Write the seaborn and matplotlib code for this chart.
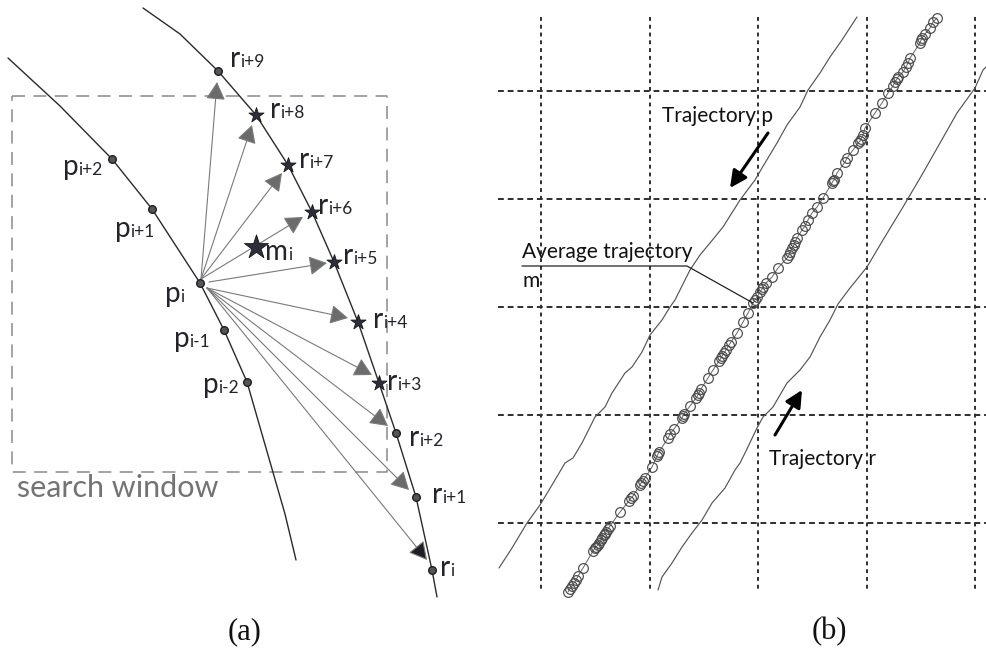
import matplotlib
matplotlib.use("Agg")
import matplotlib.pyplot as plt
import numpy as np
import pandas as pd
import seaborn as sns

# ---------------- panel (a): p_i and its search window on trajectory r ----------------
p_curve_x = [8, 60, 112, 152, 200, 224, 247, 268, 285, 296]
p_curve_y = [58, 106, 159, 209, 283, 330, 382, 455, 514, 560]
r_curve_x = [143, 180, 218, 256, 288, 312, 334, 358, 379, 396, 416, 432, 437]
r_curve_y = [8, 34, 71, 115, 165, 212, 262, 322, 383, 433, 497, 570, 597]

p_subs = ["i+2", "i+1", "i", "i-1", "i-2"]
p_x = [112, 152, 200, 224, 247]
p_y = [159, 209, 283, 330, 382]
p_label_x = [63, 115, 165, 174, 203]
p_label_y = [175, 237, 302, 347, 393]

r_subs = ["i", "i+1", "i+2", "i+3", "i+4", "i+5", "i+6", "i+7", "i+8", "i+9"]
r_x = [432, 416, 396, 379, 358, 334, 312, 288, 256, 218]
r_y = [570, 497, 433, 383, 322, 262, 212, 165, 115, 71]
r_kind = ["dot", "dot", "dot", "star", "star", "star", "star", "star", "star", "dot"]
r_label_x = [440, 432, 409, 387, 373, 343, 318, 299, 270, 230]
r_label_y = [576, 503, 446, 390, 328, 264, 214, 168, 118, 67]

# vectors from p_i towards each r point
tail_x = [207, 207, 207, 207, 207, 209, 201, 201, 201, 201]
tail_y = [288, 288, 288, 288, 288, 282, 279, 279, 279, 279]
tip_x = [427, 409, 388, 372, 348, 327, 303, 282, 252, 217]
tip_y = [560, 490, 426, 375, 318, 263, 217, 173, 125, 82]

m_x, m_y = 256, 247
m_label = (265, 260)
window_x = [12, 387]
window_y = [96, 472]

# ---------------- panel (b): trajectories p, r and their average m ----------------
grid_x = [541, 649.5, 758, 866.5, 975]
grid_y = [91, 199, 307, 415, 523]

traj_p_x = [499, 512, 527, 540, 555, 565, 573, 582, 595, 605, 612, 625, 632, 642, 650, 662, 670,
            675, 690, 700, 710, 723, 740, 755, 762, 777, 787, 800, 808, 820, 830, 842, 855, 857]
traj_p_y = [568, 548, 523, 505, 480, 463, 458, 443, 417, 407, 393, 373, 367, 352, 335, 320, 307,
            300, 270, 255, 243, 227, 200, 180, 168, 143, 125, 107, 90, 73, 57, 40, 20, 17]

traj_r_x = [658, 662, 672, 682, 692, 702, 712, 725, 735, 740, 745, 757, 763, 773, 787, 800, 810,
            820, 830, 838, 850, 867, 883, 903, 923, 940, 957, 975, 983, 986]
traj_r_y = [590, 577, 563, 547, 533, 520, 503, 488, 470, 463, 453, 428, 417, 407, 383, 370, 357,
            337, 320, 304, 288, 267, 240, 207, 173, 143, 113, 88, 70, 67]

traj_m_x = [568, 570, 572, 574, 576, 578, 583, 593, 595, 596, 598, 599, 601, 602, 604, 605, 606,
            608, 610, 620, 629, 631, 633, 640, 641, 643, 645, 652, 657, 658, 659, 668, 670, 674,
            682, 683, 684, 690, 696, 698, 699, 701, 708, 713, 719, 721, 722, 724, 726, 729, 731,
            737, 743, 748, 753, 755, 757, 760, 762, 763, 766, 772, 778, 787, 789, 790, 792, 794,
            795, 797, 802, 805, 808, 812, 817, 823, 832, 833, 834, 837, 845, 847, 853, 858, 860,
            861, 863, 865, 875, 882, 888, 893, 895, 897, 898, 903, 906, 908, 910, 920, 921, 922,
            925, 930, 933, 937]
traj_m_y = [592, 589, 586, 583, 580, 576, 568, 551, 548, 547, 545, 543, 540, 538, 535, 534, 532,
            529, 526, 512, 501, 498, 496, 485, 483, 481, 478, 467, 456, 454, 452, 438, 434, 429,
            418, 416, 414, 406, 398, 395, 393, 389, 378, 370, 361, 358, 356, 353, 350, 345, 342,
            333, 322, 313, 303, 300, 297, 292, 289, 287, 283, 277, 268, 258, 255, 252, 248, 245,
            242, 238, 230, 226, 220, 213, 207, 198, 183, 181, 180, 173, 162, 158, 150, 143, 141,
            139, 135, 128, 113, 103, 93, 86, 82, 79, 77, 72, 67, 63, 58, 43, 40, 38, 34, 28, 22, 18]

arrow_p = [(768, 133), (730, 188)]
arrow_r = [(775, 435), (802, 390)]
avg_leader_x = [522, 687, 753]
avg_leader_y = [266, 266, 303]

captions = ["(a)", "(b)"]
caption_x = [245, 829]
caption_y = 639

# ---------------- drawing ----------------
sns.set_theme(style="white")
plt.rcParams["font.family"] = ["Lato", "DejaVu Sans"]

fig = plt.figure(figsize=(9.86, 6.5), dpi=100)
ax = fig.add_axes([0, 0, 1, 1])
ax.set_xlim(0, 986)
ax.set_ylim(650, 0)
ax.axis("off")
renderer = fig.canvas.get_renderer()

DARK = "#23232b"


def sub_label(base, sub, x, y, color=DARK, size=20, sub_size=12.5):
    t = ax.text(x, y, base, fontsize=size, color=color, va="baseline", ha="left")
    w = t.get_window_extent(renderer).width
    ax.text(x + w, y, sub, fontsize=sub_size, color=color, va="baseline", ha="left")


# search window
wx0, wx1 = window_x
wy0, wy1 = window_y
ax.plot([wx0, wx1, wx1, wx0, wx0], [wy0, wy0, wy1, wy1, wy0],
        color="#8a8a8a", lw=1.1, ls=(0, (8.5, 5.5)))
ax.text(17, 497, "search window", fontsize=22, color="#737373", va="baseline", ha="left")

# trajectories in panel (a)
sns.lineplot(x=p_curve_x, y=p_curve_y, sort=False, estimator=None, ax=ax, color="#2a2a2a", lw=1.0)
sns.lineplot(x=r_curve_x, y=r_curve_y, sort=False, estimator=None, ax=ax, color="#2a2a2a", lw=1.0)

# vectors
for i in range(len(tip_x)):
    head_fc = "#1e1e24" if i == 0 else "#6b6b6b"
    ax.annotate("", xy=(tip_x[i], tip_y[i]), xytext=(tail_x[i], tail_y[i]),
                arrowprops=dict(arrowstyle="-|>,head_length=1.1,head_width=0.6",
                                mutation_scale=10, shrinkA=0, shrinkB=0, lw=0.8,
                                ec="#7a7a7a", fc=head_fc))

# points on p and r
pts = pd.DataFrame({"x": p_x + r_x, "y": p_y + r_y,
                    "kind": ["dot"] * len(p_x) + r_kind})
dots = pts[pts.kind == "dot"]
stars = pts[pts.kind == "star"]
sns.scatterplot(data=dots, x="x", y="y", ax=ax, s=30, color="#555555",
                edgecolor="#1e1e24", linewidth=1.0, zorder=5)
sns.scatterplot(data=stars, x="x", y="y", ax=ax, marker="*", s=130, color="#2c2f3a",
                edgecolor="#15151a", linewidth=0.6, zorder=5)
sns.scatterplot(x=[m_x], y=[m_y], ax=ax, marker="*", s=330, color="#2c2f3a",
                edgecolor="#15151a", linewidth=0.6, zorder=5)

for s, lx, ly in zip(p_subs, p_label_x, p_label_y):
    sub_label("p", s, lx, ly)
for s, lx, ly in zip(r_subs, r_label_x, r_label_y):
    sub_label("r", s, lx, ly)
sub_label("m", "i", *m_label)

# ---------------- panel (b) ----------------
for gx in grid_x:
    ax.plot([gx, gx], [17, 592], color="#2e2e2e", lw=1.4, ls=(0, (2.0, 2.0)))
for gy in grid_y:
    ax.plot([498, 986], [gy, gy], color="#2e2e2e", lw=1.4, ls=(0, (3.0, 2.0)))

sns.lineplot(x=traj_p_x, y=traj_p_y, sort=False, estimator=None, ax=ax, color="#555555", lw=0.85)
sns.lineplot(x=traj_r_x, y=traj_r_y, sort=False, estimator=None, ax=ax, color="#555555", lw=0.85)
ax.plot(traj_m_x, traj_m_y, color="#666666", lw=0.7, marker="o", ms=7,
        mfc="none", mec="#4a4a4a", mew=0.85)

for (x0, y0), (x1, y1) in (arrow_p, arrow_r):
    ax.annotate("", xy=(x1, y1), xytext=(x0, y0),
                arrowprops=dict(arrowstyle="-|>,head_length=0.85,head_width=0.42",
                                mutation_scale=12, shrinkA=0, shrinkB=0, lw=2.2,
                                color="black"))

ax.text(662, 122, "Trajectory p", fontsize=15, color="#111111", va="baseline", ha="left")
ax.text(769, 465, "Trajectory r", fontsize=15, color="#111111", va="baseline", ha="left")
ax.text(522, 258, "Average trajectory", fontsize=15, color="#111111", va="baseline", ha="left")
ax.text(522, 287, "m", fontsize=15, color="#111111", va="baseline", ha="left")
ax.plot(avg_leader_x, avg_leader_y, color="#222222", lw=0.9)

for c, cx in zip(captions, caption_x):
    ax.text(cx, caption_y, c, fontsize=22, family="Liberation Serif", color="#111111",
            va="baseline", ha="center")

fig.savefig("out.png", dpi=100, facecolor="white")
